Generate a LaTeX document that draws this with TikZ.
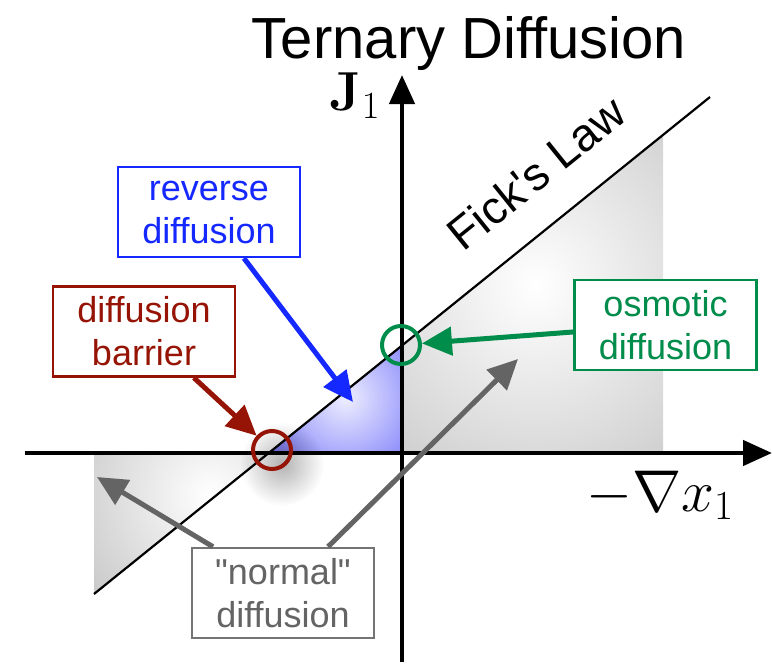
\RequirePackage{fix-cm}
\documentclass[tikz,border=0pt]{standalone}
\usepackage[no-math]{fontspec}
\setmainfont{Liberation Sans}[Ligatures=TeXOff]
\usetikzlibrary{arrows.meta,fadings}
\definecolor{revblue}{RGB}{20,40,255}
\definecolor{barred}{RGB}{150,20,5}
\definecolor{osmgreen}{RGB}{0,140,75}
\definecolor{normgray}{RGB}{100,100,100}
\definecolor{blueedge}{RGB}{108,108,250}
\definecolor{bluecore}{RGB}{238,238,255}
\tikzfading[name=softdisc, inner color=transparent!0, outer color=transparent!100]
\tikzset{
  labelbox/.style={draw, line width=2.5pt, fill=white, minimum width=182pt, minimum height=90pt,
    align=center, inner sep=2pt, font=\fontsize{36}{43}\selectfont},
  pointer/.style={line width=5pt, -{Triangle[length=30pt,width=28pt]}},
  axisline/.style={line width=4.5pt, -{Triangle[length=29pt,width=25pt]}},
  ring/.style={circle, draw, line width=4pt, minimum size=38pt, inner sep=0pt},
}
\begin{document}
\begin{tikzpicture}[x=1pt,y=-1pt]
\useasboundingbox (0,0) rectangle (772,664);
% shaded regions
\begin{scope}
  \clip (402,453) -- (402,345.5) -- (663,134.9) -- (663,453) -- cycle;
  \shade[inner color=white, outer color=black!33] (535,285) circle (380);
\end{scope}
\begin{scope}
  \clip (94,453) -- (268.8,453) -- (94,594) -- cycle;
  \shade[inner color=white, outer color=black!32] (210,495) circle (230);
\end{scope}
\begin{scope}
  \clip (268.8,453) -- (402,453) -- (402,345.5) -- cycle;
  \shade[inner color=bluecore, outer color=blueedge] (345,398) circle (105);
\end{scope}
% shadow of the barrier ring
\fill[black, opacity=0.3, path fading=softdisc] (282,464) circle (42);
% axes
\coordinate (xstart) at (25,453);
\coordinate (xend) at (772,453);
\coordinate (ystart) at (402,662);
\coordinate (yend) at (402,75);
\draw[axisline] (xstart) -- (xend);
\draw[axisline] (ystart) -- (yend);
% Fick's law line
\coordinate (fickA) at (94,594);
\coordinate (fickB) at (710,97);
\draw[line width=2.2pt] (fickA) -- (fickB);
\node[rotate=38.9, font=\fontsize{46}{48}\selectfont] (fick) at (536,173) {Fick's Law};
% labels
\node[anchor=base, font=\fontsize{58}{60}\selectfont] (title) at (469,58) {Ternary Diffusion};
\node[anchor=base, font=\fontsize{55}{58}\selectfont] (jlab) at (355,110) {$\mathbf{J}_1$};
\node[anchor=base, font=\fontsize{59}{60}\selectfont] (grad) at (660,511) {$-\nabla x_1$};
% rings
\node[ring, draw=barred] (barring) at (272,450) {};
\node[ring, draw=osmgreen] (osmring) at (401,345) {};
% boxes
\node[labelbox, draw=revblue, text=revblue] (rev) at (209,212) {reverse\\diffusion};
\node[labelbox, draw=barred, text=barred] (bar) at (144,331.5) {diffusion\\barrier};
\node[labelbox, draw=osmgreen, text=osmgreen] (osm) at (665.5,325) {osmotic\\diffusion};
\node[labelbox, draw=normgray!90, text=normgray] (norm) at (283,593) {"normal"\\diffusion};
% pointers
\coordinate (revtip) at (353,402);
\coordinate (normL) at (97,477);
\coordinate (normR) at (518,359);
\draw[pointer, revblue] (rev) -- (revtip);
\draw[pointer, barred] (bar) -- (barring);
\draw[pointer, osmgreen] (osm) -- (osmring);
\draw[pointer, normgray] ([xshift=-70pt]norm.north) -- (normL);
\draw[pointer, normgray] ([xshift=45pt]norm.north) -- (normR);
\end{tikzpicture}
\end{document}
